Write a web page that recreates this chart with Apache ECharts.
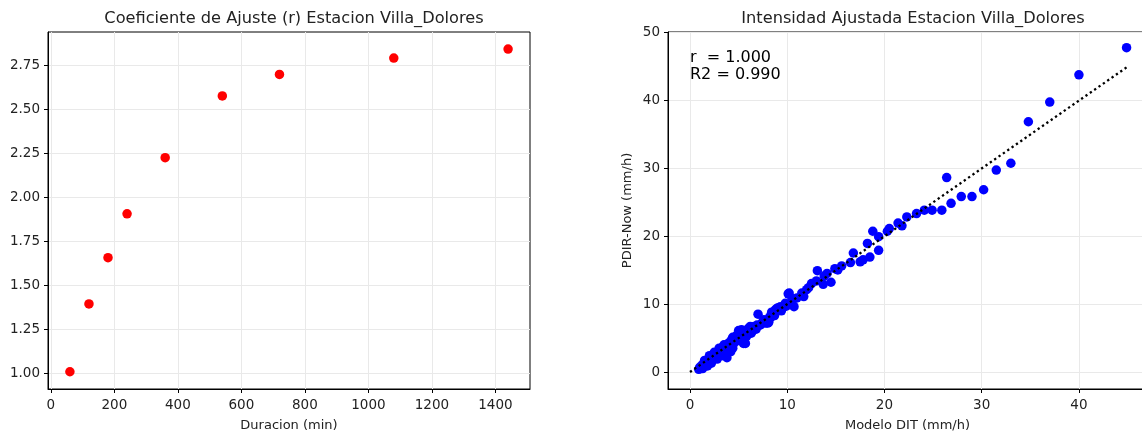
<!DOCTYPE html>
<html><head><meta charset="utf-8">
<script src="https://cdn.jsdelivr.net/npm/echarts@6/dist/echarts.min.js"></script>
<style>html,body{margin:0;padding:0;background:#fff}#c{width:1142px;height:432px}</style>
</head><body><div id="c"></div>
<script>
// Left chart: adjustment coefficient per duration
const duraciones = [60, 120, 180, 240, 360, 540, 720, 1080, 1440];
const coefR = [1.01, 1.395, 1.658, 1.907, 2.226, 2.577, 2.699, 2.792, 2.843];

// Right chart: model vs observed intensities
const modeloDIT = [44.9,40.0,37.0,34.8,33.0,31.5,30.2,29.0,27.9,26.85,26.4,25.9,24.9,24.1,23.3,22.3,21.4,21.8,20.5,20.3,
  18.8,19.4,18.25,19.4,18.5,17.8,16.8,17.5,16.5,15.6,14.9,13.1,13.8,14.1,14.5,13.7,12.5,12.0,11.5,11.7,10.2,10.5,10.7,10.1,9.8,9.3,8.75,8.2,8.0,7.0,7.5,6.9,6.0,5.3,5.7,4.4,5.1,
  0.9,1.0,1.1,1.2,1.3,1.4,1.5,1.6,1.7,1.8,1.9,2.0,2.1,2.2,2.3,2.4,2.5,2.6,2.7,2.8,2.9,3.0,3.1,3.2,3.3,3.4,3.5,3.6,3.7,3.8,3.9,4.0,4.2,4.3,4.5,4.7,4.9,5.2,5.5,5.6,5.9,6.2,6.4,6.6,7.2,7.6,8.4,9.0,9.6,11.0,12.2,13.0,15.2,
  1.5,2.0,2.5,3.0,3.5,2.2,2.8,3.3,3.9,4.4,4.8,1.3,1.8,5.0,5.4,5.8,6.3,6.8,7.3,7.8,8.1,8.3,8.7,8.9,9.4,9.9,10.5,4.2,3.8,6.2];
const pdirNow = [47.7,43.7,39.7,36.8,30.7,29.7,26.8,25.8,25.8,24.8,28.6,23.8,23.8,23.8,23.3,22.8,21.9,21.5,21.1,20.7,
  20.7,19.9,18.9,17.9,16.9,16.5,17.5,16.2,16.1,15.6,15.2,14.9,14.1,14.5,13.2,12.9,13.0,12.1,11.6,11.1,11.6,10.8,9.6,11.5,10.1,9.6,9.1,8.1,7.2,8.5,7.4,6.9,6.4,6.2,4.2,5.1,6.0,
  0.4,0.7,0.5,0.9,1.1,0.8,1.3,1.0,1.5,1.2,1.8,1.4,2.0,1.7,2.3,1.9,2.5,2.1,2.8,2.3,3.0,2.6,3.3,2.8,3.6,3.0,3.8,2.6,3.3,4.0,3.5,4.3,3.7,4.8,4.2,5.0,4.6,5.4,4.2,5.5,5.7,6.1,6.0,6.7,6.9,7.7,8.8,9.4,9.5,10.9,12.4,13.4,15.0,
  1.7,2.4,2.9,3.5,4.0,1.3,1.9,2.4,3.0,3.5,5.4,0.5,0.9,6.1,5.0,5.2,5.7,6.3,7.0,7.2,7.3,8.0,8.3,9.3,9.0,9.7,10.4,3.0,2.1,6.7];
// Fitted line end points
const lineX = [0, 44.9];
const lineY = [0, 44.8];

// Tick values
const leftXTicks = [0, 200, 400, 600, 800, 1000, 1200, 1400];
const leftYTicks = [1.00, 1.25, 1.50, 1.75, 2.00, 2.25, 2.50, 2.75];
const rightXTicks = [0, 10, 20, 30, 40];
const rightYTicks = [0, 10, 20, 30, 40, 50];

const txt = '#222';
const fontFam = '"DejaVu Sans", sans-serif';
function ax(ticks, fmt, margin, extra) {
  return Object.assign({
    type: 'value',
    axisLine: {show: true, onZero: false, lineStyle: {color: '#000', width: 1}},
    axisTick: {show: true, length: 4, lineStyle: {color: '#000'}, customValues: ticks},
    axisLabel: {color: txt, fontSize: 13.5, fontFamily: fontFam, margin: margin, customValues: ticks, formatter: fmt},
    splitLine: {show: true, lineStyle: {color: '#e9e9e9', width: 1}},
    nameTextStyle: {color: txt, fontSize: 13, fontFamily: fontFam}
  }, extra);
}

const chart = echarts.init(document.getElementById('c'), null, {renderer: 'canvas'});
chart.setOption({
  animation: false,
  backgroundColor: '#fff',
  title: [
    {text: 'Coeficiente de Ajuste (r) Estacion Villa_Dolores', left: 289, top: 6, textAlign: 'center',
     textStyle: {fontSize: 16.2, fontWeight: 'normal', color: txt, fontFamily: fontFam}},
    {text: 'Intensidad Ajustada Estacion Villa_Dolores', left: 908, top: 6, textAlign: 'center',
     textStyle: {fontSize: 16.2, fontWeight: 'normal', color: txt, fontFamily: fontFam}}
  ],
  grid: [
    {left: 48, top: 32, width: 482, height: 357, show: true, borderColor: '#000', borderWidth: 1, backgroundColor: 'transparent', outerBoundsMode: 'none', containLabel: false},
    {left: 668, top: 32, width: 479, height: 357, show: true, borderColor: '#000', borderWidth: 1, backgroundColor: 'transparent', outerBoundsMode: 'none', containLabel: false}
  ],
  xAxis: [
    ax(leftXTicks, v => String(Math.round(v)), 9, {gridIndex: 0, min: -9, max: 1509,
        name: 'Duracion (min)', nameLocation: 'middle', nameGap: 30}),
    ax(rightXTicks, v => String(Math.round(v)), 9, {gridIndex: 1, min: -2.26, max: 47,
        name: 'Modelo DIT (mm/h)', nameLocation: 'middle', nameGap: 30})
  ],
  yAxis: [
    ax(leftYTicks, v => Number(v).toFixed(2), 8, {gridIndex: 0, min: 0.912, max: 2.94}),
    ax(rightYTicks, v => String(Math.round(v)), 8, {gridIndex: 1, min: -2.5, max: 50,
        name: 'PDIR-Now (mm/h)', nameLocation: 'middle', nameGap: 34, nameRotate: 90})
  ],
  graphic: [
    {type: 'text', left: 690, top: 49, style: {text: 'r  = 1.000\nR2 = 0.990', fill: '#000', font: '16px "DejaVu Sans", sans-serif', lineHeight: 17}}
  ],
  series: [
    {type: 'scatter', xAxisIndex: 0, yAxisIndex: 0, symbolSize: 9.5,
     itemStyle: {color: '#ff0000', opacity: 1},
     data: duraciones.map((d, i) => [d, coefR[i]])},
    {type: 'scatter', xAxisIndex: 1, yAxisIndex: 1, symbolSize: 9.5,
     itemStyle: {color: '#0000ff', opacity: 1},
     data: modeloDIT.map((d, i) => [d, pdirNow[i]])},
    {type: 'line', xAxisIndex: 1, yAxisIndex: 1, symbol: 'none', z: 5,
     lineStyle: {color: '#000', width: 2.3, type: [2.3, 3]},
     data: lineX.map((d, i) => [d, lineY[i]])}
  ]
});
</script></body></html>
